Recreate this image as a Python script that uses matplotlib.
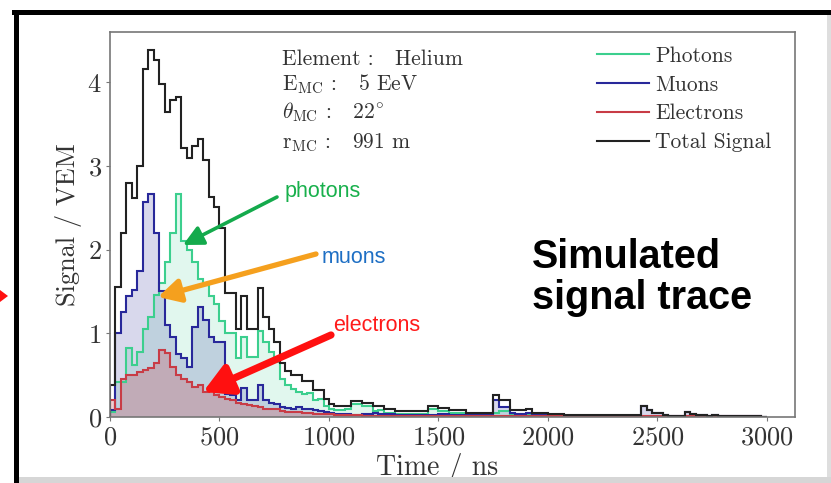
import matplotlib.pyplot as plt
import numpy as np
from matplotlib.lines import Line2D
from matplotlib.patches import Polygon, Rectangle

plt.rcParams["font.family"] = "serif"
plt.rcParams["font.serif"] = ["cmr10"]
plt.rcParams["mathtext.fontset"] = "cm"
plt.rcParams["axes.formatter.use_mathtext"] = True

W, H = 831, 483

# 25 ns bins from 0 to 3000 ns
bin_width = 25
time_edges = np.arange(0, 3000 + bin_width, bin_width)

photons = [
    0.06, 0.42, 0.42, 0.82, 0.62, 0.78, 1.05, 1.20, 1.46, 1.60,
    1.85, 2.20, 2.67, 2.10, 2.00, 1.85, 1.65, 1.58, 1.45, 1.35,
    1.15, 1.00, 1.00, 0.70, 0.95, 0.72, 0.72, 1.03, 0.90, 0.78,
    0.66, 0.45, 0.38, 0.34, 0.30, 0.28, 0.29, 0.20, 0.21, 0.13,
    0.10, 0.08, 0.08, 0.09, 0.16, 0.16, 0.13, 0.13, 0.07, 0.08,
    0.05, 0.05, 0.04, 0.04, 0.04, 0.04, 0.04, 0.04, 0.10, 0.10,
    0.07, 0.07, 0.05, 0.05, 0.05, 0.02, 0.02, 0.02, 0.02, 0.02,
    0.05, 0.07, 0.07, 0.03, 0.03, 0.03, 0.03, 0.02, 0.02, 0.02,
    0.02, 0.01, 0.01, 0.01, 0.01, 0.01, 0.01, 0.01, 0.01, 0.01,
    0.01, 0.01, 0.01, 0.01, 0.01, 0.01, 0.01, 0.00, 0.00, 0.00,
    0.00, 0.00, 0.00, 0.00, 0.00, 0.00, 0.00, 0.00, 0.00, 0.00,
    0.00, 0.00, 0.00, 0.00, 0.00, 0.00, 0.00, 0.00, 0.00, 0.00,
]

muons = [
    0.08, 1.00, 1.25, 1.45, 1.52, 1.75, 2.57, 2.66, 2.20, 1.50,
    1.10, 0.95, 0.75, 0.70, 0.60, 1.08, 1.32, 1.16, 0.95, 0.90,
    0.90, 0.28, 0.26, 0.20, 0.35, 0.20, 0.20, 0.38, 0.20, 0.17,
    0.15, 0.12, 0.11, 0.10, 0.12, 0.10, 0.09, 0.08, 0.07, 0.06,
    0.05, 0.04, 0.04, 0.03, 0.02, 0.02, 0.03, 0.03, 0.05, 0.04,
    0.03, 0.03, 0.02, 0.02, 0.02, 0.02, 0.02, 0.02, 0.02, 0.02,
    0.03, 0.03, 0.02, 0.02, 0.02, 0.02, 0.02, 0.02, 0.02, 0.02,
    0.20, 0.12, 0.12, 0.05, 0.04, 0.04, 0.05, 0.03, 0.03, 0.03,
    0.02, 0.02, 0.02, 0.01, 0.01, 0.01, 0.01, 0.01, 0.01, 0.01,
    0.01, 0.01, 0.01, 0.01, 0.01, 0.01, 0.01, 0.13, 0.08, 0.05,
    0.05, 0.02, 0.01, 0.01, 0.01, 0.06, 0.04, 0.02, 0.02, 0.01,
    0.02, 0.01, 0.01, 0.01, 0.01, 0.01, 0.01, 0.01, 0.01, 0.00,
]

electrons = [
    0.20, 0.10, 0.46, 0.50, 0.50, 0.54, 0.56, 0.58, 0.64, 0.80,
    0.76, 0.60, 0.50, 0.45, 0.42, 0.36, 0.38, 0.30, 0.32, 0.26,
    0.24, 0.22, 0.20, 0.17, 0.15, 0.14, 0.13, 0.12, 0.10, 0.10,
    0.09, 0.07, 0.06, 0.06, 0.06, 0.05, 0.05, 0.04, 0.04, 0.03,
    0.03, 0.02, 0.02, 0.02, 0.02, 0.02, 0.01, 0.01, 0.01, 0.01,
    0.01, 0.01, 0.01, 0.01, 0.01, 0.01, 0.01, 0.01, 0.01, 0.01,
    0.01, 0.01, 0.01, 0.01, 0.01, 0.01, 0.01, 0.01, 0.01, 0.01,
    0.01, 0.01, 0.01, 0.01, 0.01, 0.01, 0.01, 0.01, 0.01, 0.01,
    0.01, 0.01, 0.01, 0.01, 0.01, 0.01, 0.01, 0.01, 0.01, 0.01,
    0.01, 0.01, 0.01, 0.01, 0.01, 0.01, 0.01, 0.01, 0.01, 0.01,
    0.01, 0.01, 0.01, 0.01, 0.01, 0.01, 0.01, 0.01, 0.01, 0.01,
    0.01, 0.01, 0.01, 0.01, 0.01, 0.01, 0.01, 0.01, 0.01, 0.00,
]

total = [
    0.38, 1.55, 2.20, 2.79, 2.62, 3.00, 4.16, 4.38, 4.26, 3.98,
    3.65, 3.79, 3.82, 3.21, 3.10, 3.24, 3.32, 3.07, 2.63, 2.51,
    2.26, 1.48, 1.48, 1.05, 1.44, 1.05, 1.05, 1.54, 1.20, 1.05,
    0.90, 0.64, 0.55, 0.50, 0.50, 0.43, 0.43, 0.32, 0.32, 0.22,
    0.16, 0.13, 0.13, 0.13, 0.19, 0.19, 0.17, 0.17, 0.13, 0.13,
    0.09, 0.09, 0.07, 0.07, 0.07, 0.07, 0.07, 0.07, 0.13, 0.13,
    0.11, 0.11, 0.08, 0.08, 0.08, 0.05, 0.05, 0.05, 0.05, 0.05,
    0.26, 0.20, 0.20, 0.08, 0.08, 0.08, 0.09, 0.05, 0.05, 0.05,
    0.04, 0.03, 0.03, 0.02, 0.02, 0.02, 0.02, 0.02, 0.02, 0.02,
    0.02, 0.02, 0.02, 0.02, 0.02, 0.02, 0.02, 0.13, 0.08, 0.05,
    0.05, 0.02, 0.01, 0.01, 0.01, 0.06, 0.04, 0.02, 0.02, 0.01,
    0.02, 0.01, 0.01, 0.01, 0.01, 0.01, 0.01, 0.01, 0.01, 0.00,
]

info_lines = [
    r"Element :   Helium",
    r"$\mathrm{E}_{\mathrm{MC}}$ :   5 EeV",
    r"$\theta_{\mathrm{MC}}$ :   22$^{\circ}$",
    r"$\mathrm{r}_{\mathrm{MC}}$ :   991 m",
]

series = [
    ("Photons", photons, "#3ccf8e", 0.15),
    ("Muons", muons, "#28289a", 0.18),
    ("Electrons", electrons, "#c83c46", 0.25),
]

text_col = "#333333"
spine_col = "#777777"

fig = plt.figure(figsize=(W / 100, H / 100), dpi=100)
ax = fig.add_axes([110 / W, 1 - 417 / H, 685 / W, 385 / H])

for name, vals, col, alpha in series:
    ax.stairs(vals, time_edges, fill=True, color=col, alpha=alpha, lw=0)
for name, vals, col, alpha in series:
    ax.stairs(vals, time_edges, color=col, lw=1.5)
ax.stairs(total, time_edges, color="#222222", lw=1.5)

ax.set_xlim(0, 3128)
ax.set_ylim(0, 4.6)
ax.set_xticks(np.arange(0, 3001, 500))
ax.set_yticks(np.arange(0, 5, 1))
ax.tick_params(direction="out", length=3, width=0.8, color=spine_col,
               labelcolor=text_col, labelsize=19, pad=3)
for sp in ax.spines.values():
    sp.set_color(spine_col)
    sp.set_linewidth(1.2)

ax.set_xlabel("Time / ns", fontsize=20, color=text_col)
ax.set_ylabel("Signal / VEM", fontsize=19, color=text_col)
ax.xaxis.set_label_coords((437 - 110) / 685, -(453 - 417) / 385)
ax.yaxis.set_label_coords(-(110 - 82) / 685, 0.5)

# run parameters
for txt, base in zip(info_lines, [65, 90, 118, 148]):
    fig.text(282 / W, 1 - base / H, txt, fontsize=15.5, color=text_col,
             va="baseline", ha="left")

handles = [Line2D([], [], color=c, lw=1.5) for _, _, c, _ in series]
handles.append(Line2D([], [], color="#222222", lw=1.5))
labels = [s[0] for s in series] + ["Total Signal"]
ax.legend(handles, labels, loc="upper left", frameon=False, fontsize=15.5,
          bbox_to_anchor=(597 / W, 1 - 46 / H), bbox_transform=fig.transFigure,
          borderpad=0, borderaxespad=0, handlelength=2.4, handletextpad=0.3,
          labelspacing=0.44, labelcolor=text_col)

# callouts
sans = "Liberation Sans"
def arrow(tail, head, col, lw, hl, hw, ms):
    ax.annotate("", xy=(head[0], H - head[1]), xytext=(tail[0], H - tail[1]),
                xycoords="figure pixels", textcoords="figure pixels",
                arrowprops=dict(arrowstyle=f"-|>,head_length={hl},head_width={hw}",
                                color=col, lw=lw, mutation_scale=ms,
                                shrinkA=0, shrinkB=0))

arrow((277, 197), (183, 245), "#14aa4c", 2.6, 0.6, 0.3, 20)
arrow((316, 254), (158, 297), "#f5a01e", 3.8, 0.6, 0.32, 22)
arrow((331, 335), (203, 392), "#ff1010", 5.2, 0.65, 0.36, 26)

fig.text(285 / W, 1 - 197 / H, "photons", family=sans, fontsize=15.5,
         color="#18b04c", va="baseline")
fig.text(322 / W, 1 - 263 / H, "muons", family=sans, fontsize=15.5,
         color="#1e6fc4", va="baseline")
fig.text(333 / W, 1 - 331 / H, "electrons", family=sans, fontsize=15.5,
         color="#ff1a1a", va="baseline")

fig.text(532 / W, 1 - 268 / H, "Simulated", family=sans, fontsize=28.5,
         weight="bold", color="black", va="baseline")
fig.text(532 / W, 1 - 309 / H, "signal trace", family=sans, fontsize=28.5,
         weight="bold", color="black", va="baseline")

# slide frame around the plot
def px_rect(x0, y0, x1, y1, col):
    fig.add_artist(Rectangle((x0 / W, 1 - y1 / H), (x1 - x0) / W, (y1 - y0) / H,
                             transform=fig.transFigure, color=col, lw=0))

px_rect(12, 10, W, 15, "black")
px_rect(14, 10, 19, H, "black")
px_rect(19, 477, W, H, "#d6d6d6")
px_rect(827, 15, W, 477, "#dedede")
fig.add_artist(Polygon([(0, 1 - 290 / H), (8 / W, 1 - 296 / H), (0, 1 - 302 / H)],
                       closed=True, transform=fig.transFigure, color="#ff1010", lw=0))

fig.savefig("out.png", dpi=100)
